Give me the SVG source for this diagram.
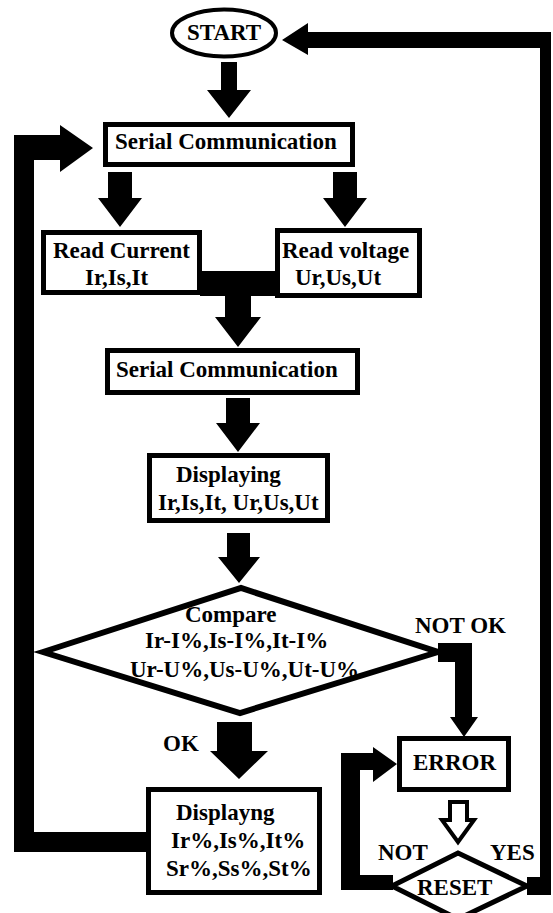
<svg xmlns="http://www.w3.org/2000/svg" width="553" height="913" viewBox="0 0 553 913">
<style>
text{font-family:"Liberation Serif","Times New Roman",serif;font-weight:bold;font-size:23px;fill:#000}
.box{fill:#fff;stroke:#000;stroke-width:5}
.dia{fill:#fff;stroke:#000;stroke-width:6;stroke-linejoin:miter}
.arr{fill:#000;stroke:none}
.hollow{fill:#fff;stroke:#000;stroke-width:4;stroke-linejoin:miter}
</style>
<rect width="553" height="913" fill="#fff"/>
<g id="connectors">
<polygon class="arr" points="221,62 237,62 237,90 251,90 229,118 207,90 221,90"/>
<polygon class="arr" points="282,40 308,23 308,32 551,32 551,895 527,895 527,877 540,877 540,48 308,48 308,55"/>
<polygon class="arr" points="14,135 60,135 60,125 93,148 60,172 60,160 34,160 34,832 147,832 147,852 14,852"/>
<polygon class="arr" points="108,172 132,172 132,198 142,198 120,227 98,198 108,198"/>
<polygon class="arr" points="333,172 357,172 357,198 367,198 345,227 323,198 333,198"/>
<polygon class="arr" points="200,271 277,271 277,296 251,296 251,317 261,317 238,347 215,317 225,317 225,296 200,296"/>
<polygon class="arr" points="226,398 250,398 250,423 260,423 238,452 216,423 226,423"/>
<polygon class="arr" points="227,533 250,533 250,557 260,557 239,583 218,557 227,557"/>
<polygon class="arr" points="217,722 252,722 252,751 268,751 239,779 210,751 217,751"/>
<polygon class="arr" points="438,643 472,643 472,717 478,717 464,737 450,717 455,717 455,662 438,662"/>
<polygon class="arr" points="341,753 373,753 373,747 397,764 373,782 373,770 360,770 360,875 393,875 393,890 341,890"/>
<polygon class="hollow" points="450,802 467,802 467,820 474,820 458,842 442,820 450,820"/>
</g>
<g id="start">
<ellipse cx="224" cy="33" rx="52" ry="23.5" fill="#fff" stroke="#000" stroke-width="4"/>
<text x="187" y="40">START</text>
</g>
<g id="serial1">
<rect class="box" x="105.5" y="124.5" width="247" height="40"/>
<text x="115" y="149">Serial Communication</text>
</g>
<g id="readCurrent">
<rect class="box" x="43.5" y="232.5" width="156" height="60"/>
<text x="53" y="258">Read Current</text>
<text x="85" y="285">Ir,Is,It</text>
</g>
<g id="readVoltage">
<rect class="box" x="277.5" y="230.5" width="142" height="65"/>
<text x="282" y="258">Read voltage</text>
<text x="295" y="285">Ur,Us,Ut</text>
</g>
<g id="serial2">
<rect class="box" x="107.5" y="350.5" width="250" height="42"/>
<text x="116" y="377">Serial Communication</text>
</g>
<g id="displaying">
<rect class="box" x="149.5" y="455.5" width="178" height="65"/>
<text x="176" y="482">Displaying</text>
<text x="158" y="510">Ir,Is,It, Ur,Us,Ut</text>
</g>
<g id="compare">
<polygon class="dia" points="43,652 241,588 438,652 240,713"/>
<text x="185" y="622">Compare</text>
<text x="145" y="648">Ir-I%,Is-I%,It-I%</text>
<text x="130" y="677">Ur-U%,Us-U%,Ut-U%</text>
</g>
<g id="labels">
<text x="415" y="633">NOT OK</text>
<text x="163" y="751">OK</text>
<text x="378" y="860">NOT</text>
<text x="490" y="860">YES</text>
</g>
<g id="displayng">
<rect class="box" x="148.5" y="789.5" width="171" height="103"/>
<text x="176" y="820">Displayng</text>
<text x="171" y="848">Ir%,Is%,It%</text>
<text x="166" y="876">Sr%,Ss%,St%</text>
</g>
<g id="error">
<rect class="box" x="399.5" y="738.5" width="109" height="51"/>
<text x="413" y="770">ERROR</text>
</g>
<g id="reset">
<polygon class="dia" style="stroke-width:5" points="392,886 458,853 527,886 458,919"/>
<text x="417" y="895">RESET</text>
</g>
</svg>
